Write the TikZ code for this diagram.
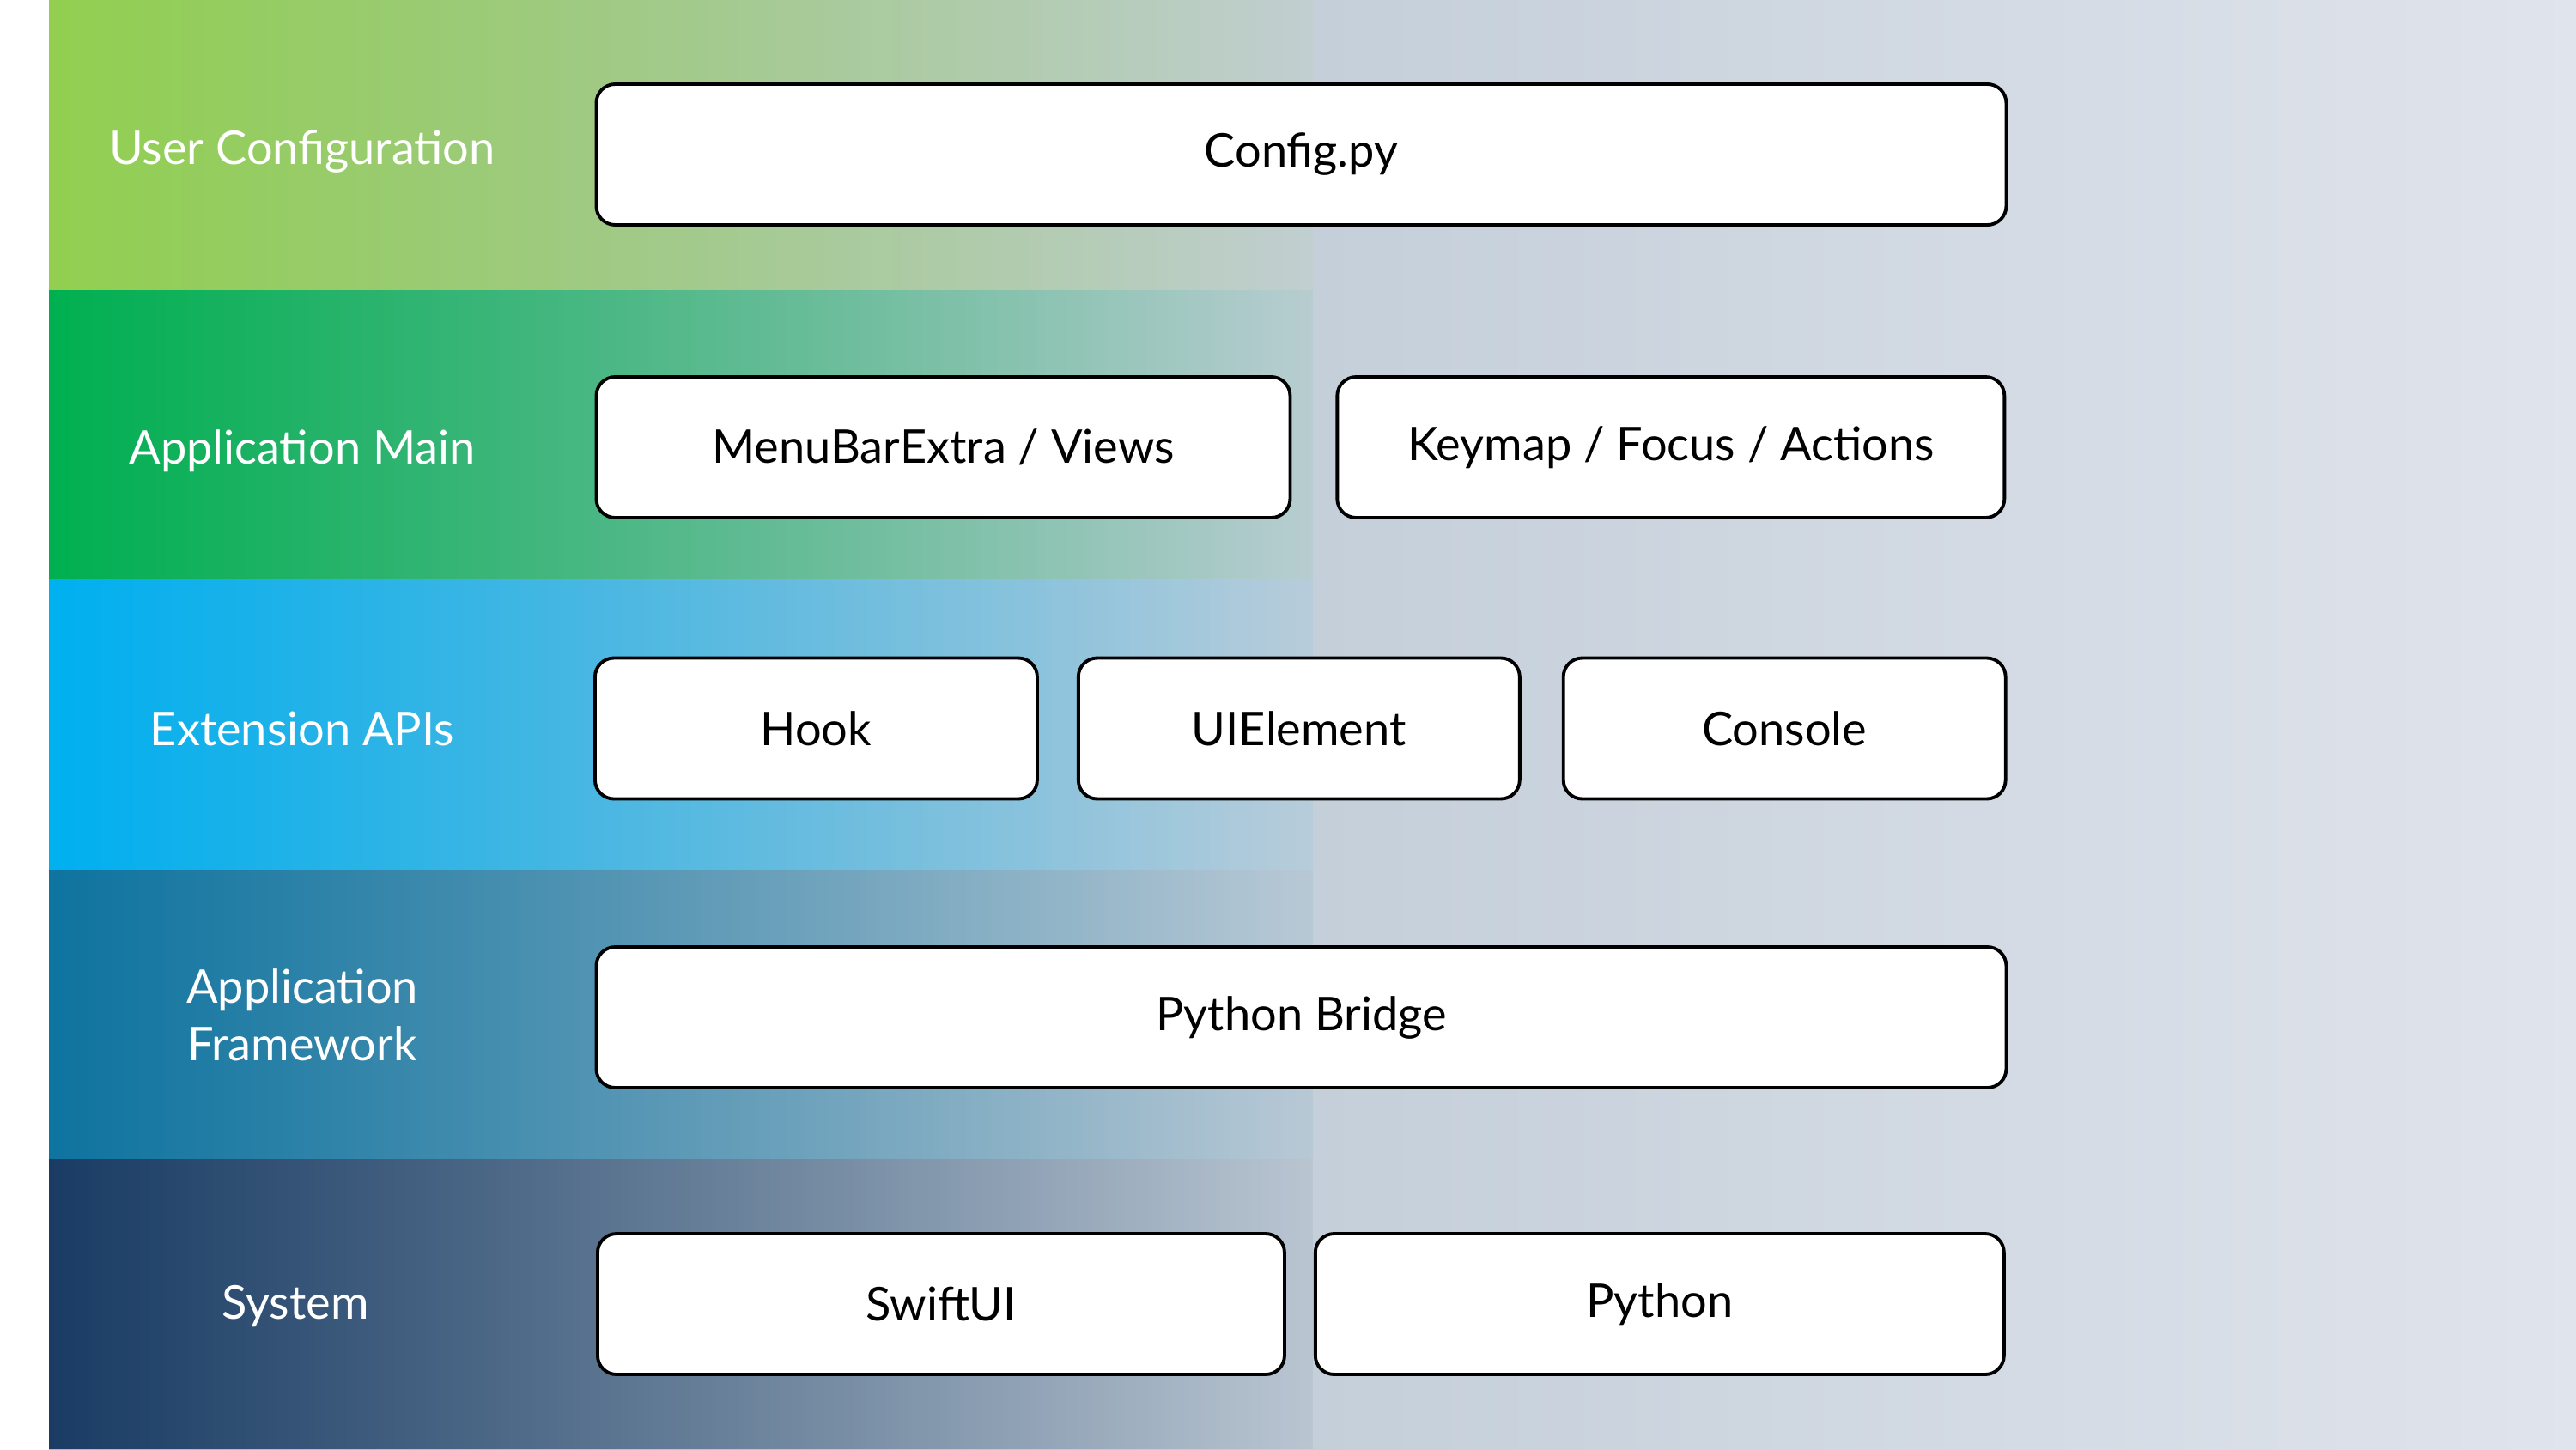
\documentclass[tikz,border=0pt]{standalone}
\usepackage{fontspec}
\setmainfont{Lato}
\usepackage{tikz}
\usetikzlibrary{positioning,fadings}

\definecolor{bgleft}{HTML}{A9BAC7}
\definecolor{bgright}{HTML}{E0E4EC}
\definecolor{userband}{HTML}{92D050}
\definecolor{mainband}{HTML}{00B050}
\definecolor{apiband}{HTML}{00B0F0}
\definecolor{frameband}{HTML}{0E74A0}
\definecolor{sysband}{HTML}{1A3C64}

\tikzfading[name=bandfade, left color=transparent!0, right color=transparent!94]

\begin{document}
\begin{tikzpicture}[node distance=5mm,
	box/.style={draw=black,line width=1.1pt,fill=white,rounded corners=2.2mm,minimum height=16.4mm,inner sep=0pt,font=\fontsize{15.4}{20}\selectfont},
	layer/.style={text=white,align=center,font=\fontsize{15.4}{19}\selectfont}]
		\useasboundingbox (0,0) rectangle (30,-16.88);
		\fill[white] (0,0) rectangle (30,-16.88);
		\fill[left color=bgleft,right color=bgright] (0.57,0) rectangle (30,-16.88);
		% layer bands
		\fill[userband,path fading=bandfade] (0.57,0) rectangle (15.3,-3.376);
		\fill[mainband,path fading=bandfade] (0.57,-3.376) rectangle (15.3,-6.752);
		\fill[apiband,path fading=bandfade] (0.57,-6.752) rectangle (15.3,-10.128);
		\fill[frameband,path fading=bandfade] (0.57,-10.128) rectangle (15.3,-13.504);
		\fill[sysband,path fading=bandfade] (0.57,-13.504) rectangle (15.3,-16.88);
		% layer names
		\node[layer] (user) at (3.52,-1.77) {User Configuration};
		\node[layer] (main) at (3.52,-5.25) {Application Main};
		\node[layer] (api) at (3.52,-8.49) {Extension APIs};
		\node[layer] (frame) at (3.52,-11.82) {Application\\Framework};
		\node[layer] (sys) at (3.44,-15.22) {System};
		% components
		\node[box,minimum width=164.2mm,anchor=west] (config) at (6.925,-1.80) {Config.py};
		\node[box,minimum width=80.8mm,anchor=west] (menubar) at (6.925,-5.21) {MenuBarExtra / Views};
		\node[box,minimum width=77.7mm,right=5.1mm of menubar] (keymap) {Keymap / Focus / Actions};
		\node[box,minimum width=51.5mm,anchor=west] (hook) at (6.91,-8.485) {Hook};
		\node[box,minimum width=51.4mm,right=4.4mm of hook] (uielem) {UIElement};
		\node[box,minimum width=51.5mm,right=4.7mm of uielem] (console) {Console};
		\node[box,minimum width=164.2mm,anchor=west] (bridge) at (6.925,-11.85) {Python Bridge};
		\node[box,minimum width=80mm,anchor=west] (swiftui) at (6.94,-15.19) {SwiftUI};
		\node[box,minimum width=80.2mm,right=3.2mm of swiftui] (python) {Python};
\end{tikzpicture}
\end{document}
